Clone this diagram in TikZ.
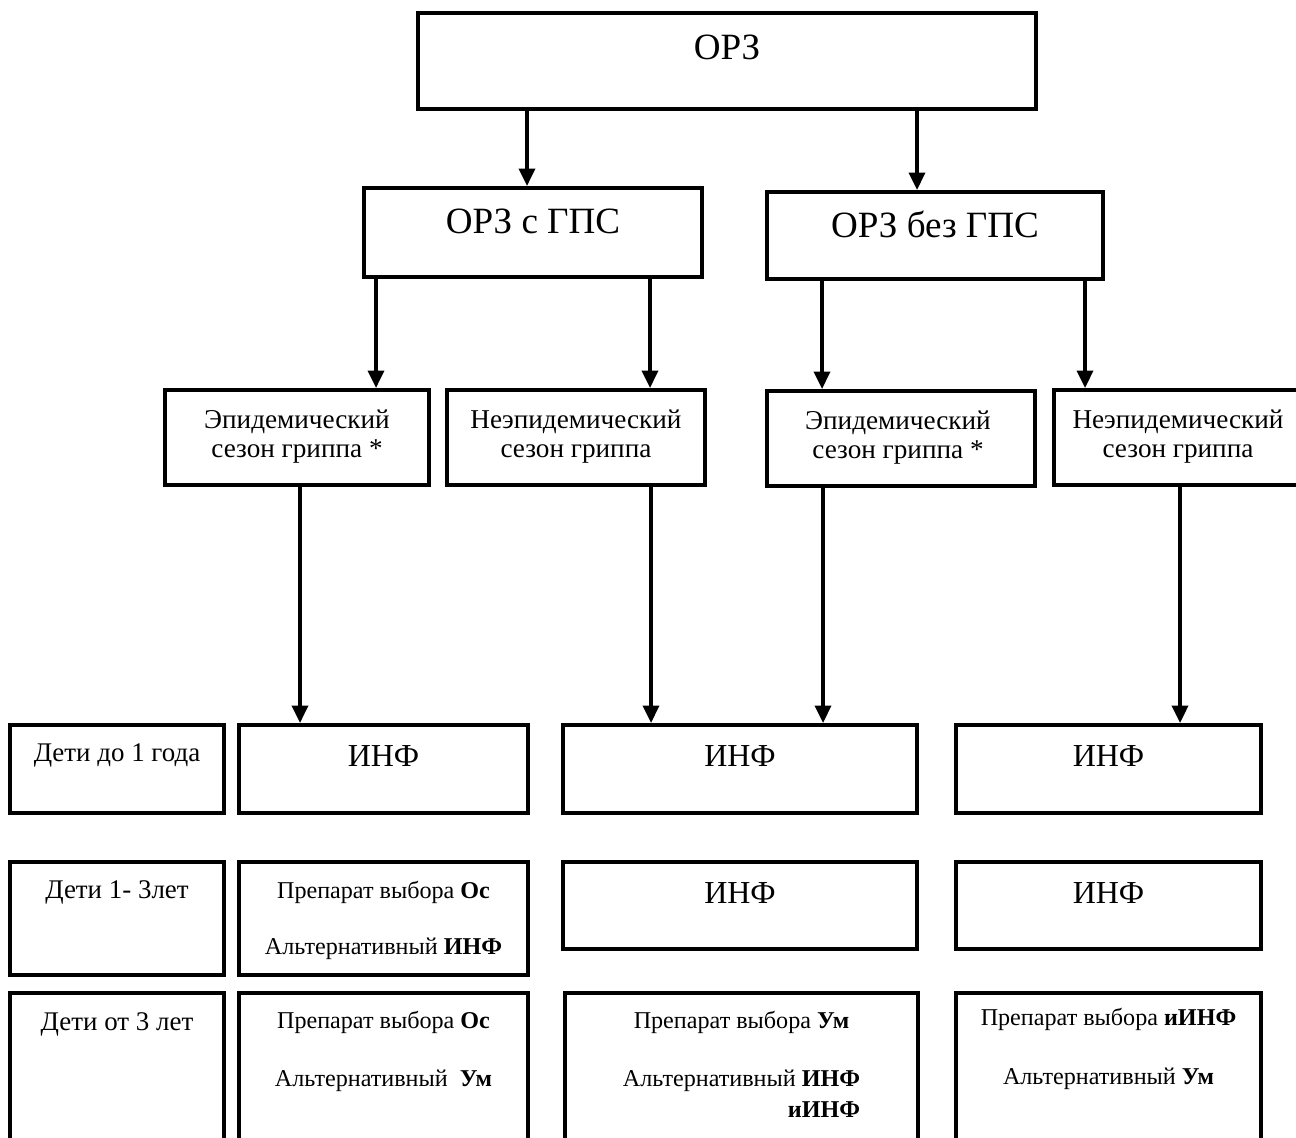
\documentclass[tikz,border=0pt]{standalone}
\usepackage{fontspec}
\setmainfont{Liberation Serif}
\usetikzlibrary{arrows.meta}
\tikzset{
  box/.style={draw, line width=3pt, inner sep=0pt},
  arr/.style={line width=2.6pt, -{Triangle[length=13pt,width=12pt]}},
  tx/.style={inner sep=0pt, anchor=base},
}
\newcommand\bx[5]{\node[box, minimum width={(#4-#2)*0.75pt}, minimum height={(#5-#3)*0.75pt}] (#1) at ({(#2+#4)/2},{(#3+#5)/2}) {};}
\newcommand\fA{\fontsize{27.8}{30}\selectfont}
\newcommand\fS{\fontsize{20.4}{23}\selectfont}
\newcommand\fL{\fontsize{20.2}{22}\selectfont}
\newcommand\fI{\fontsize{24}{26}\selectfont}
\newcommand\fP{\fontsize{18.1}{20}\selectfont}
\begin{document}
\begin{tikzpicture}[x=0.75pt,y=-0.75pt]
\useasboundingbox (0,0) rectangle (1296,1138);
\fill[white] (0,0) rectangle (1296,1138);
\clip (0,0) rectangle (1296,1138);
% boxes
\bx{orz}{418}{13}{1036}{109}
\bx{gps}{364}{188}{702}{277}
\bx{bez}{767}{192}{1103}{279}
\bx{s1}{165}{390}{429}{485}
\bx{s2}{447}{390}{705}{485}
\bx{s3}{767}{391}{1035}{486}
\bx{s4}{1054}{390}{1304}{485}
\bx{l1}{10}{725}{224}{813}
\bx{a1}{239}{725}{528}{813}
\bx{b1}{563}{725}{917}{813}
\bx{c1}{956}{725}{1261}{813}
\bx{l2}{10}{862}{224}{975}
\bx{a2}{239}{862}{528}{975}
\bx{b2}{563}{862}{917}{949}
\bx{c2}{956}{862}{1261}{949}
\bx{l3}{10}{993}{224}{1200}
\bx{a3}{239}{993}{528}{1200}
\bx{b3}{565}{993}{918}{1200}
\bx{c3}{956}{993}{1261}{1200}
% texts
\node[tx,font=\fA] (t-orz) at (727,60) {ОРЗ};
\node[tx,font=\fA] (t-gps) at (533,233) {ОРЗ с ГПС};
\node[tx,font=\fA] (t-bez) at (935,237) {ОРЗ без ГПС};
\node[tx,font=\fS] (t-s1a) at (297,428) {Эпидемический};
\node[tx,font=\fS] (t-s1b) at (297,457) {сезон гриппа *};
\node[tx,font=\fS] (t-s2a) at (576,428) {Неэпидемический};
\node[tx,font=\fS] (t-s2b) at (576,457) {сезон гриппа};
\node[tx,font=\fS] (t-s3a) at (898,429) {Эпидемический};
\node[tx,font=\fS] (t-s3b) at (898,458) {сезон гриппа *};
\node[tx,font=\fS] (t-s4a) at (1178,428) {Неэпидемический};
\node[tx,font=\fS] (t-s4b) at (1178,457) {сезон гриппа};
\node[tx,font=\fL] (t-l1) at (117,761) {Дети до 1 года};
\node[tx,font=\fL] (t-l2) at (117,898) {Дети 1- 3лет};
\node[tx,font=\fL] (t-l3) at (117,1030) {Дети от 3 лет};
\node[tx,font=\fI] (t-a1) at (383.5,766) {ИНФ};
\node[tx,font=\fI] (t-b1) at (740,766) {ИНФ};
\node[tx,font=\fI] (t-c1) at (1108.5,766) {ИНФ};
\node[tx,font=\fI] (t-b2) at (740,903) {ИНФ};
\node[tx,font=\fI] (t-c2) at (1108.5,903) {ИНФ};
\node[tx,font=\fP] (t-a2a) at (383.5,898) {Препарат выбора \textbf{Ос}};
\node[tx,font=\fP] (t-a2b) at (383.5,954) {Альтернативный \textbf{ИНФ}};
\node[tx,font=\fP] (t-a3a) at (383.5,1028) {Препарат выбора \textbf{Ос}};
\node[tx,font=\fP] (t-a3b) at (383.5,1086) {Альтернативный\ \ \textbf{Ум}};
\node[tx,font=\fP] (t-b3a) at (741.5,1028) {Препарат выбора \textbf{Ум}};
\node[tx,font=\fP] (t-b3b) at (741.5,1086) {Альтернативный \textbf{ИНФ}};
\node[tx,font=\fP,anchor=base east] (t-b3c) at (t-b3b.base east |- 0,1117) {\textbf{иИНФ}};
\node[tx,font=\fP] (t-c3a) at (1108.5,1025) {Препарат выбора \textbf{иИНФ}};
\node[tx,font=\fP] (t-c3b) at (1108.5,1084) {Альтернативный \textbf{Ум}};
% arrows
\draw[arr] (orz.south -| 527,0) -- (gps.north -| 527,0);
\draw[arr] (orz.south -| 917,0) -- (bez.north -| 917,0);
\draw[arr] (gps.south -| 376,0) -- (s1.north -| 376,0);
\draw[arr] (gps.south -| 650,0) -- (s2.north -| 650,0);
\draw[arr] (bez.south -| 822,0) -- (s3.north -| 822,0);
\draw[arr] (bez.south -| 1085,0) -- (s4.north -| 1085,0);
\draw[arr] (s1.south -| 300,0) -- (a1.north -| 300,0);
\draw[arr] (s2.south -| 651,0) -- (b1.north -| 651,0);
\draw[arr] (s3.south -| 823,0) -- (b1.north -| 823,0);
\draw[arr] (s4.south -| 1180,0) -- (c1.north -| 1180,0);
\end{tikzpicture}
\end{document}
